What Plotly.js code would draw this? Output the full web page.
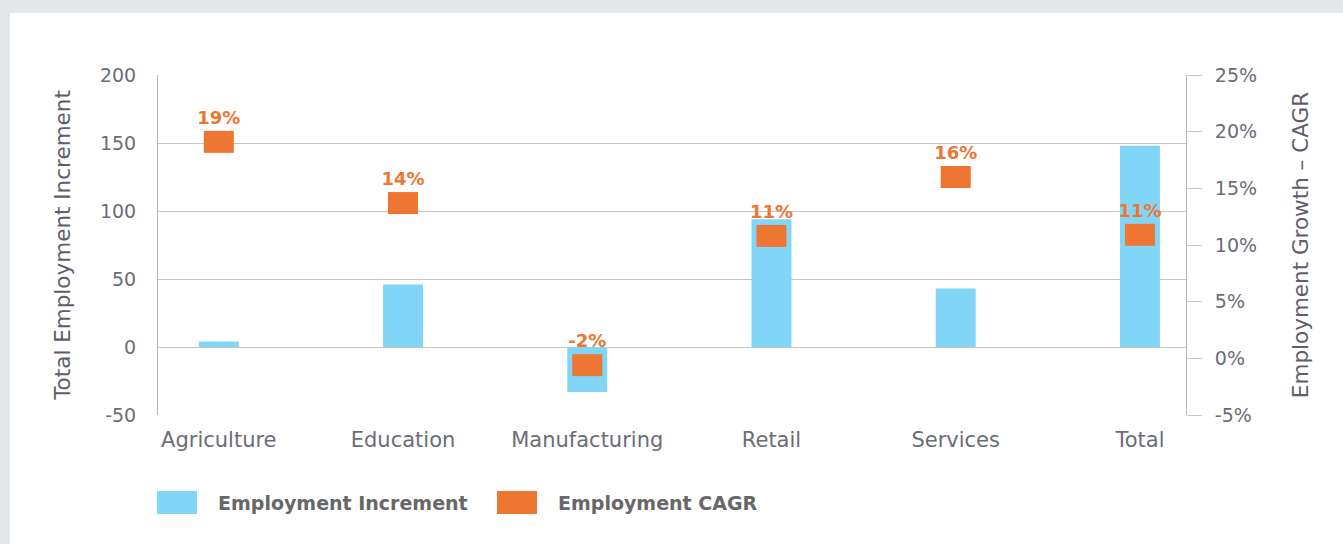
<!DOCTYPE html>
<html><head><meta charset="utf-8">
<script src="https://cdn.plot.ly/plotly-3.0.1.min.js"></script>
<style>
html,body{margin:0;padding:0;background:#e3e7ea;width:1343px;height:544px;overflow:hidden}
#chart{position:absolute;left:10px;top:13px;width:1333px;height:531px;background:#fff}
</style></head><body><div id="chart"></div>
<script>
// ---- data ----
const categories = ['Agriculture', 'Education', 'Manufacturing', 'Retail', 'Services', 'Total'];
const increment = [4, 46, -33, 94, 43, 148];              // Total Employment Increment (left axis)
const cagr = [19.1, 13.7, -0.6, 10.8, 16.0, 10.9];        // Employment CAGR (%) marker positions (right axis)
const cagrLabels = ['19%', '14%', '-2%', '11%', '16%', '11%'];
const leftTicks = [-50, 0, 50, 100, 150, 200];
const leftTickText = ['-50', '0', '50', '100', '150', '200'];
const rightTicks = [-5, 0, 5, 10, 15, 20, 25];
const rightTickText = ['-5%', '0%', '5%', '10%', '15%', '20%', '25%'];

// ---- style ----
const FONT = 'DejaVu Sans';
const BLUE = '#81d6f7';
const ORANGE = '#ee7633';
const TXT = '#6c6c77';
const TITLE = '#5e5e68';
const GRID = '#c4c4c4';
const MARK_H = 1.94; // marker rectangle height in % units

const traceInc = {
  type: 'bar', name: 'Employment Increment',
  x: categories, y: increment,
  yaxis: 'y', width: 0.217,
  marker: {color: BLUE},
  hoverinfo: 'x+y'
};
const traceCagr = {
  type: 'bar', name: 'Employment CAGR',
  x: categories,
  y: cagr.map(() => MARK_H),
  base: cagr.map(v => v - MARK_H / 2),
  yaxis: 'y2', width: 0.163,
  marker: {color: ORANGE},
  text: cagrLabels, textposition: 'outside', constraintext: 'none', cliponaxis: false,
  textfont: {family: FONT, size: 18, color: ORANGE, weight: 'bold'},
  hoverinfo: 'x+text'
};

const layout = {
  width: 1333, height: 531,
  margin: {l: 148, r: 157, t: 62, b: 129},
  paper_bgcolor: '#ffffff', plot_bgcolor: '#ffffff',
  font: {family: FONT, color: TXT},
  barmode: 'overlay',
  showlegend: true,
  xaxis: {
    type: 'category', range: [-0.33, 5.25],
    showgrid: false, zeroline: false, showline: false, ticks: '',
    tickfont: {family: FONT, size: 21, color: TXT},
    ticklabelstandoff: 10
  },
  yaxis: {
    range: [-50, 200], tickvals: leftTicks, ticktext: leftTickText,
    showgrid: true, gridcolor: GRID, gridwidth: 1,
    zeroline: true, zerolinecolor: GRID, zerolinewidth: 1,
    showline: true, linecolor: '#b8b8b8', linewidth: 1,
    ticks: '', ticklabelstandoff: 17,
    tickfont: {family: FONT, size: 19, color: TXT},
    title: {text: 'Total Employment Increment', font: {family: FONT, size: 21.5, color: TITLE}, standoff: 23}
  },
  yaxis2: {
    overlaying: 'y', side: 'right',
    range: [-5, 25], tickvals: rightTicks, ticktext: rightTickText,
    showgrid: false, zeroline: false,
    showline: true, linecolor: '#b8b8b8', linewidth: 1,
    ticks: 'outside', ticklen: 15, tickcolor: '#c8c8c8', tickwidth: 1,
    ticklabelstandoff: 9,
    tickfont: {family: FONT, size: 19, color: TXT},
    title: {text: 'Employment Growth – CAGR', font: {family: FONT, size: 21.5, color: TITLE}, standoff: 36}
  },
  legend: {
    orientation: 'h', x: -0.0214, xanchor: 'left', y: -0.258, yanchor: 'middle',
    itemwidth: 72, entrywidth: 253, traceorder: 'normal',
    font: {family: FONT, size: 19, color: '#676767', weight: 'bold'},
    bgcolor: 'rgba(0,0,0,0)', borderwidth: 0
  }
};

Plotly.newPlot('chart', [traceInc, traceCagr], layout, {displayModeBar: false, staticPlot: true}).then(gd => {
  gd.querySelectorAll('.legend .legendpoints path').forEach(p => {
    p.setAttribute('d', 'M20,11.5H-20V-11.5H20Z');
  });
});
</script></body></html>
